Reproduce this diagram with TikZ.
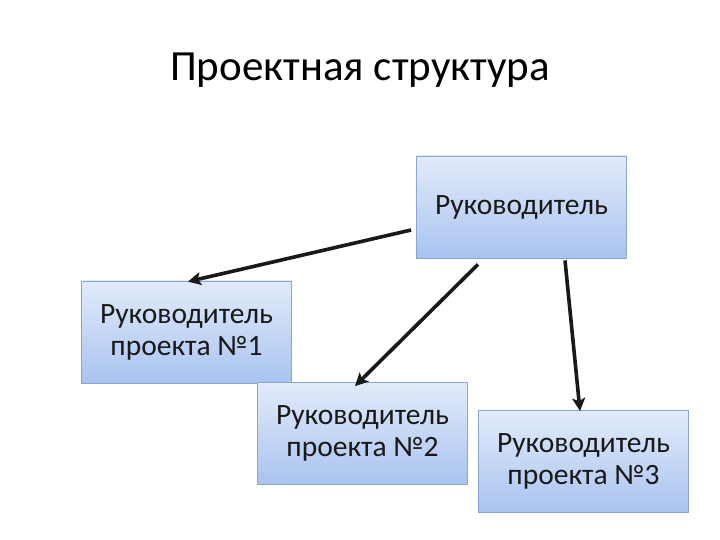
\documentclass[tikz,border=0pt]{standalone}
\usepackage{fontspec}
\setmainfont{Carlito}
\usetikzlibrary{arrows.meta}
\definecolor{boxtop}{HTML}{E2EBFA}
\definecolor{boxbot}{HTML}{A9C3EF}
\definecolor{boxline}{HTML}{8AA6D6}
\tikzset{
  orgbox/.style={draw=boxline, line width=0.8pt, top color=boxtop, bottom color=boxbot,
    minimum width=210pt, minimum height=102pt, inner sep=0pt, align=center,
    font=\fontsize{29.5}{32}\selectfont, text=black!90},
  link/.style={line width=3.6pt, -{Stealth[length=13pt,width=13pt,inset=3pt]}, black!90}
}
\begin{document}
\begin{tikzpicture}[x=1pt,y=1pt]
\useasboundingbox (0,0) rectangle (720,540);
\node (title) at (360,470) {\fontsize{43}{48}\selectfont Проектная структура};
\node[orgbox] (top) at (521.5,333) {Руководитель};
\node[orgbox] (p1) at (186.5,208) {Руководитель\\проекта №1};
\node[orgbox] (p2) at (362.5,106.5) {Руководитель\\проекта №2};
\node[orgbox] (p3) at (583.5,78.5) {Руководитель\\проекта №3};
\draw[link] ([xshift=-5pt,yshift=-23pt]top.west) -- ([xshift=1.5pt,yshift=-1pt]p1.north);
\draw[link] ([xshift=-43.5pt,yshift=-6pt]top.south) -- ([xshift=-7.5pt,yshift=-4pt]p2.north);
\draw[link] ([xshift=43.5pt,yshift=-2pt]top.south) -- ([xshift=-3.5pt,yshift=-1pt]p3.north);
\end{tikzpicture}
\end{document}
